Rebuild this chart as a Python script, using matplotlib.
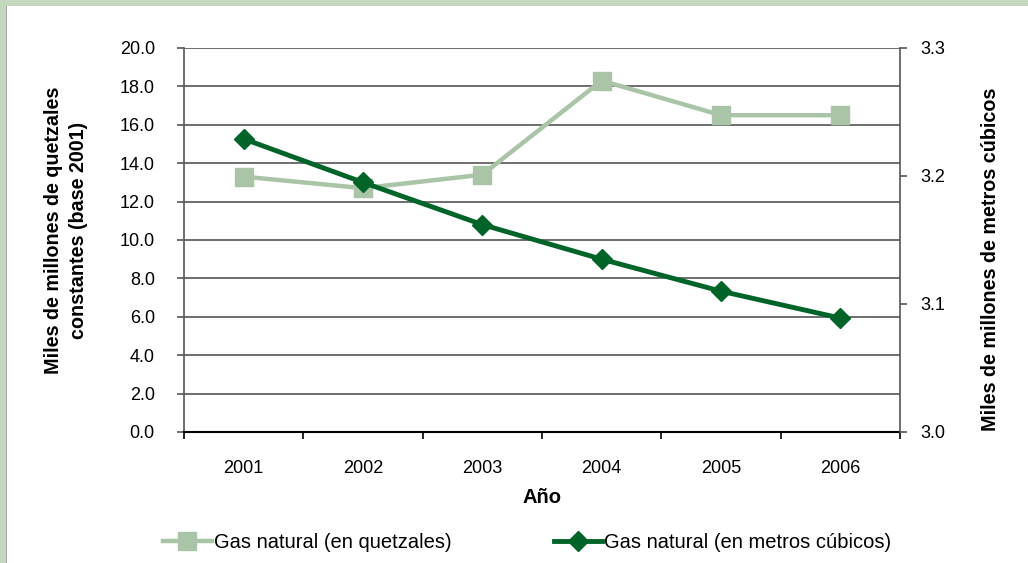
import matplotlib
matplotlib.use("Agg")
import matplotlib.pyplot as plt
from matplotlib.patches import Rectangle
from matplotlib.lines import Line2D

years = ["2001", "2002", "2003", "2004", "2005", "2006"]
quetzales = [13.3, 12.7, 13.4, 18.3, 16.5, 16.5]
metros_cubicos = [3.229, 3.195, 3.162, 3.135, 3.110, 3.089]
left_ticks = [0, 2, 4, 6, 8, 10, 12, 14, 16, 18, 20]
right_ticks = [3.0, 3.1, 3.2, 3.3]

plt.rcParams['font.family'] = ['Liberation Sans', 'DejaVu Sans']

light = "#a9c4a6"
dark = "#006428"
gridc = "#555555"
lab_fs = 14.5
ylab_fs = 14.2

fig = plt.figure(figsize=(10.28, 5.63), dpi=100)
fig.patch.set_facecolor("white")
# light green frame on top and left
fig.patches.append(Rectangle((0, 1 - 6 / 563), 1, 6 / 563, transform=fig.transFigure,
                             facecolor="#c4d8c0", edgecolor="none", zorder=0))
fig.patches.append(Rectangle((0, 0), 6 / 1028, 1, transform=fig.transFigure,
                             facecolor="#c4d8c0", edgecolor="none", zorder=0))
fig.patches.append(Rectangle((6 / 1028, 0), 1.2 / 1028, 1 - 6 / 563, transform=fig.transFigure,
                             facecolor="#a8a8a8", edgecolor="none", zorder=0))

ax = fig.add_axes([184 / 1028, (563 - 432) / 563, (900 - 184) / 1028, (432 - 48) / 563])
x = list(range(len(years)))
ax.plot(x, quetzales, color=light, lw=3.2, marker="s", ms=13, zorder=3, clip_on=False)
ax.set_xlim(-0.5, len(years) - 0.5)
ax.set_ylim(0, 20)
ax.set_yticks(left_ticks)
ax.set_yticklabels([f"{v:.1f}" for v in left_ticks], fontsize=13)
ax.set_xticks(x)
ax.set_xticklabels(years, fontsize=13)
ax.set_xticks([i - 0.5 for i in range(len(years) + 1)], minor=True)
ax.tick_params(axis="x", which="major", length=0, pad=20)
ax.tick_params(axis="x", which="minor", length=5, width=1.2, color="black", direction="out")
ax.tick_params(axis="y", which="major", length=5, width=1.2, color=gridc, pad=16, direction="out")
ax.yaxis.grid(True, color=gridc, lw=1.2)
ax.set_axisbelow(True)
for s in ["top", "right"]:
    ax.spines[s].set_visible(False)
ax.spines["left"].set_color(gridc)
ax.spines["left"].set_linewidth(1.2)
ax.spines["bottom"].set_color("black")
ax.spines["bottom"].set_linewidth(1.5)
ax.set_xlabel("Año", fontsize=lab_fs, fontweight="bold", labelpad=8)
ax.set_ylabel("Miles de millones de quetzales\nconstantes (base 2001)", fontsize=ylab_fs,
              fontweight="bold", labelpad=23, linespacing=1.38)
ax.yaxis.label.set_y(0.526)

ax2 = ax.twinx()
ax2.plot(x, metros_cubicos, color=dark, lw=3.5, marker="D", ms=10.5, zorder=4, clip_on=False)
ax2.set_ylim(3.0, 3.3)
ax2.set_yticks(right_ticks)
ax2.set_yticklabels([f"{v:.1f}" for v in right_ticks], fontsize=13)
ax2.tick_params(axis="y", length=5, width=1.2, color=gridc, pad=10, direction="out")
for s in ["top", "left", "bottom"]:
    ax2.spines[s].set_visible(False)
ax2.spines["right"].set_color(gridc)
ax2.spines["right"].set_linewidth(1.2)
ax2.set_ylabel("Miles de millones de metros cúbicos", fontsize=ylab_fs, fontweight="bold",
               labelpad=25, rotation=90)
ax2.yaxis.set_label_position("right")
ax2.yaxis.label.set_y(0.45)

h1 = Line2D([], [], color=light, lw=3.2, marker="s", ms=13)
h2 = Line2D([], [], color=dark, lw=3.5, marker="D", ms=10.5)
fig.legend([h1, h2], ["Gas natural (en quetzales)", "Gas natural (en metros cúbicos)"],
           loc="center", bbox_to_anchor=(0.513, 0.036), ncol=2, frameon=False,
           fontsize=lab_fs, handlelength=2.4, handletextpad=0.1, columnspacing=5.1)

fig.savefig("out.png", dpi=100)
